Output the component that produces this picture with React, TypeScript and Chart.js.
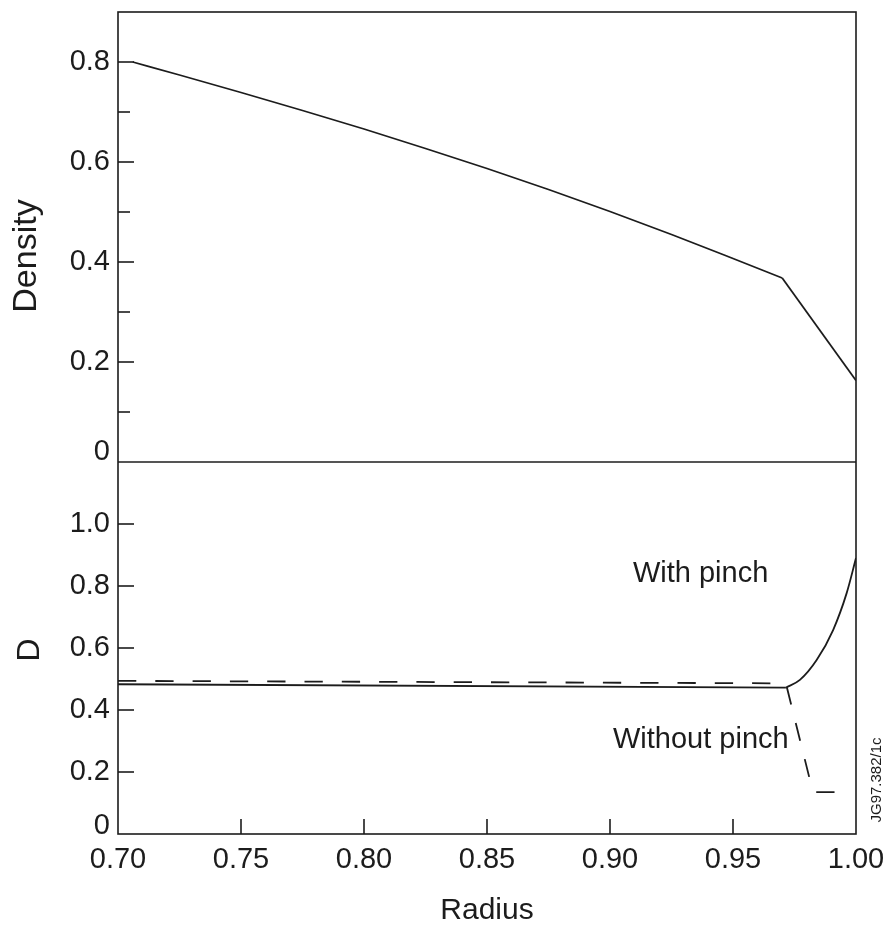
import React, { useEffect, useRef } from 'react';
import { Chart, registerables } from 'chart.js';

Chart.register(...registerables);

const FONT = '"Liberation Sans", Arial, Helvetica, sans-serif';
const INK = '#1c1c1c';

// Upper panel: density profile (core part, then steep edge part)
const densityCoreRadius = [0.706, 0.725, 0.75, 0.775, 0.8, 0.825, 0.85, 0.875, 0.9, 0.925, 0.95, 0.97];
const densityCoreValues = [0.8, 0.774, 0.739, 0.703, 0.666, 0.627, 0.587, 0.545, 0.501, 0.455, 0.407, 0.368];
const densityEdgeRadius = [0.97, 1.0];
const densityEdgeValues = [0.368, 0.163];

// Lower panel: D with pinch (flat part + rise)
const withPinchFlatRadius = [0.7, 0.9715];
const withPinchFlatValues = [0.483, 0.472];
const withPinchRiseRadius = [0.9715, 0.9772, 0.984, 0.9907, 0.9962, 1.0];
const withPinchRiseValues = [0.472, 0.497, 0.561, 0.658, 0.777, 0.89];

// Lower panel: D without pinch (dashed)
const withoutPinchRadius = [0.7, 0.9715, 0.9825, 0.9935];
const withoutPinchValues = [0.494, 0.486, 0.135, 0.135];

// Axis ranges
const radiusRange = [0.7, 1.0];
const densityRange = [0, 0.9];
const dRange = [0, 1.2];

// Annotation anchors (radius, D)
const withPinchLabelAt = [0.9093, 0.813];
const withoutPinchLabelAt = [0.9012, 0.277];

const pts = (xs: number[], ys: number[]) => xs.map((x, i) => ({ x, y: ys[i] }));

const zeroPad = (s: any) => {
  s.paddingTop = 0;
  s.paddingBottom = 0;
  s.paddingLeft = 0;
  s.paddingRight = 0;
};

export default function App() {
  const ref = useRef<HTMLCanvasElement | null>(null);

  useEffect(() => {
    if (!ref.current) return;

    const decor = {
      id: 'decor',
      afterDraw(chart: any) {
        const { ctx, chartArea: ca, scales } = chart;
        const xs = scales.x;
        const yt = scales.yTop;
        const yb = scales.yBot;
        const line = (x1: number, y1: number, x2: number, y2: number) => {
          ctx.beginPath();
          ctx.moveTo(x1, y1);
          ctx.lineTo(x2, y2);
          ctx.stroke();
        };
        ctx.save();
        ctx.strokeStyle = INK;
        ctx.lineWidth = 1.6;
        ctx.strokeRect(ca.left, ca.top, ca.right - ca.left, ca.bottom - ca.top);
        const sep = yt.getPixelForValue(0);
        line(ca.left, sep, ca.right, sep);

        yt.ticks.forEach((t: any) => {
          const v = t.value;
          if (v < 0.05 || v > 0.85) return;
          const major = Math.round(v * 10) % 2 === 0;
          const py = yt.getPixelForValue(v);
          line(ca.left, py, ca.left + (major ? 16 : 12), py);
        });
        yb.ticks.forEach((t: any) => {
          const v = t.value;
          if (v < 0.05 || v > 1.1) return;
          const py = yb.getPixelForValue(v);
          line(ca.left, py, ca.left + 16, py);
        });
        xs.ticks.forEach((t: any) => {
          const v = t.value;
          if (v < 0.72 || v > 0.98) return;
          const px = xs.getPixelForValue(v);
          line(px, ca.bottom, px, ca.bottom - 15);
        });

        ctx.fillStyle = INK;
        ctx.font = `29px ${FONT}`;
        ctx.textAlign = 'right';
        ctx.textBaseline = 'middle';
        ctx.fillText('0', ca.left - 8, yt.getPixelForValue(0) - 10);
        ctx.fillText('0', ca.left - 8, yb.getPixelForValue(0) - 8);

        ctx.textAlign = 'left';
        ctx.textBaseline = 'alphabetic';
        ctx.fillText('With pinch', xs.getPixelForValue(withPinchLabelAt[0]), yb.getPixelForValue(withPinchLabelAt[1]));
        ctx.fillText('Without pinch', xs.getPixelForValue(withoutPinchLabelAt[0]), yb.getPixelForValue(withoutPinchLabelAt[1]));

        ctx.font = `30px ${FONT}`;
        ctx.textAlign = 'center';
        ctx.textBaseline = 'middle';
        ctx.fillText('Radius', (ca.left + ca.right) / 2, 911);

        const vtext = (s: string, x: number, y: number, font: string) => {
          ctx.save();
          ctx.translate(x, y);
          ctx.rotate(-Math.PI / 2);
          ctx.font = font;
          ctx.textAlign = 'center';
          ctx.textBaseline = 'middle';
          ctx.fillText(s, 0, 0);
          ctx.restore();
        };
        vtext('Density', 27, 256, `34px ${FONT}`);
        vtext('D', 30, 650, `32px ${FONT}`);
        vtext('JG97.382/1c', 877, 780, `15px ${FONT}`);
        ctx.restore();
      },
    };

    const lineStyle = {
      borderColor: INK,
      borderWidth: 1.8,
      pointRadius: 0,
    };

    const chart = new Chart(ref.current, {
      type: 'line',
      data: {
        datasets: [
          {
            ...lineStyle,
            label: 'Density',
            data: pts(densityCoreRadius, densityCoreValues),
            yAxisID: 'yTop',
            cubicInterpolationMode: 'monotone',
          },
          {
            ...lineStyle,
            label: 'Density (edge)',
            data: pts(densityEdgeRadius, densityEdgeValues),
            yAxisID: 'yTop',
            tension: 0,
          },
          {
            ...lineStyle,
            label: 'With pinch (flat)',
            data: pts(withPinchFlatRadius, withPinchFlatValues),
            yAxisID: 'yBot',
            tension: 0,
          },
          {
            ...lineStyle,
            label: 'With pinch',
            data: pts(withPinchRiseRadius, withPinchRiseValues),
            yAxisID: 'yBot',
            cubicInterpolationMode: 'monotone',
          },
          {
            ...lineStyle,
            label: 'Without pinch',
            data: pts(withoutPinchRadius, withoutPinchValues),
            yAxisID: 'yBot',
            borderDash: [18.3, 19],
            tension: 0,
          },
        ],
      },
      options: {
        responsive: false,
        animation: false,
        layout: { padding: { top: 12, right: 31, left: 0, bottom: 0 } },
        plugins: { legend: { display: false }, tooltip: { enabled: false } },
        scales: {
          x: {
            type: 'linear',
            min: radiusRange[0],
            max: radiusRange[1],
            grid: { display: false, drawTicks: false },
            border: { display: false },
            ticks: {
              stepSize: 0.05,
              autoSkip: false,
              maxRotation: 0,
              padding: 9,
              color: INK,
              font: { family: FONT, size: 29 },
              callback: (v: any) => Number(v).toFixed(2),
            },
            afterFit: (s: any) => {
              s.height = 92;
              zeroPad(s);
            },
          },
          yTop: {
            type: 'linear',
            position: 'left',
            stack: 'panels',
            stackWeight: 450,
            weight: 2,
            min: densityRange[0],
            max: densityRange[1],
            grid: { display: false, drawTicks: false },
            border: { display: false },
            ticks: {
              stepSize: 0.1,
              autoSkip: false,
              padding: 8,
              color: INK,
              font: { family: FONT, size: 29 },
              callback: (v: any) => {
                const n = Number(v);
                return n > 0.05 && n < 0.85 && Math.round(n * 10) % 2 === 0 ? n.toFixed(1) : '';
              },
            },
            afterFit: (s: any) => {
              s.width = 118;
              zeroPad(s);
            },
          },
          yBot: {
            type: 'linear',
            position: 'left',
            stack: 'panels',
            stackWeight: 372,
            weight: 1,
            min: dRange[0],
            max: dRange[1],
            grid: { display: false, drawTicks: false },
            border: { display: false },
            ticks: {
              stepSize: 0.2,
              autoSkip: false,
              padding: 8,
              color: INK,
              font: { family: FONT, size: 29 },
              callback: (v: any) => {
                const n = Number(v);
                return n > 0.05 && n < 1.1 ? n.toFixed(1) : '';
              },
            },
            afterFit: (s: any) => {
              s.width = 118;
              zeroPad(s);
            },
          },
        },
      } as any,
      plugins: [decor],
    });

    return () => chart.destroy();
  }, []);

  return (
    <div style={{ position: 'absolute', left: 0, top: 0, width: 887, height: 926, background: '#fff' }}>
      <canvas ref={ref} width={887} height={926} style={{ display: 'block' }} />
    </div>
  );
}
